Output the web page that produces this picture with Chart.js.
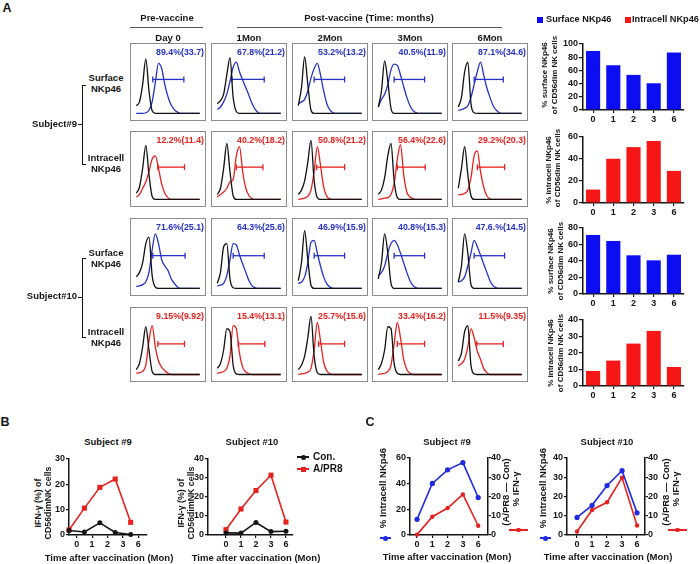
<!DOCTYPE html>
<html>
<head>
<meta charset="utf-8">
<script src="https://cdn.jsdelivr.net/npm/chart.js@4.4.1/dist/chart.umd.min.js"></script>
<style>
  body { margin: 0; background: #fff; }
  #fig { position: relative; width: 700px; height: 564px; overflow: hidden;
         font-family: Arial, "Liberation Sans", sans-serif; font-weight: bold; color: #151515; }
  .t { position: absolute; white-space: nowrap; line-height: 1; }
  .box { position: absolute; border: 1px solid #8c8c8c; box-sizing: border-box; }
  .box canvas, .cv { position: absolute; left: 0; top: 0; }
  .r { position: absolute; }
</style>
</head>
<body>
<div id="fig"></div>
<script>
// ---- data ----
var timeLabels = ['0', '1', '2', '3', '6'];
var visitTitles = ['Day 0', '1Mon', '2Mon', '3Mon', '6Mon'];
var histBins = [0, 1, 2, 3, 4, 5, 6, 7, 8, 9, 10, 11, 12, 13, 14, 15, 16, 17, 18, 19, 20];

// % NKp46+ of CD56dim NK cells (bar charts, panel C blue lines)
var s9Surface = [89.4, 67.8, 53.2, 40.5, 87.1];
var s9Intracell = [12.2, 40.2, 50.8, 56.4, 29.2];
var s10Surface = [71.6, 64.3, 46.9, 40.8, 47.6];
var s10Intracell = [9.15, 15.4, 25.7, 33.4, 11.5];

// gate read-outs printed on the histograms
var s9SurfLabels = ['89.4%(33.7)', '67.8%(21.2)', '53.2%(13.2)', '40.5%(11.9)', '87.1%(34.6)'];
var s9IntraLabels = ['12.2%(11.4)', '40.2%(18.2)', '50.8%(21.2)', '56.4%(22.6)', '29.2%(20.3)'];
var s10SurfLabels = ['71.6%(25.1)', '64.3%(25.6)', '46.9%(15.9)', '40.8%(15.3)', '47.6.%(14.5)'];
var s10IntraLabels = ['9.15%(9.92)', '15.4%(13.1)', '25.7%(15.6)', '33.4%(16.2)', '11.5%(9.35)'];

// histogram curves, % of max per bin (isotype = black, stained = coloured)
var s9SurfIso = [
  [12, 18, 45, 85, 35, 4, 0, 0, 0, 0, 0, 0, 0, 0, 0, 0, 0, 0, 0, 0, 0],
  [15, 20, 30, 60, 87, 25, 3, 0, 0, 0, 0, 0, 0, 0, 0, 0, 0, 0, 0, 0, 0],
  [12, 40, 88, 45, 5, 0, 0, 0, 0, 0, 0, 0, 0, 0, 0, 0, 0, 0, 0, 0, 0],
  [10, 35, 82, 50, 8, 0, 0, 0, 0, 0, 0, 0, 0, 0, 0, 0, 0, 0, 0, 0, 0],
  [10, 25, 65, 80, 15, 1, 0, 0, 0, 0, 0, 0, 0, 0, 0, 0, 0, 0, 0, 0, 0]
];
var s9SurfStain = [
  [0, 0, 0, 1, 5, 18, 48, 78, 70, 45, 26, 13, 6, 2, 0, 0, 0, 0, 0, 0, 0],
  [6, 10, 18, 30, 50, 72, 80, 65, 52, 40, 28, 15, 6, 1, 0, 0, 0, 0, 0, 0, 0],
  [15, 18, 22, 35, 55, 70, 78, 60, 35, 15, 5, 1, 0, 0, 0, 0, 0, 0, 0, 0, 0],
  [10, 22, 30, 45, 68, 77, 75, 60, 42, 25, 12, 4, 1, 0, 0, 0, 0, 0, 0, 0, 0],
  [5, 6, 8, 12, 25, 45, 65, 80, 60, 40, 25, 12, 5, 1, 0, 0, 0, 0, 0, 0, 0]
];
var s9IntraIso = [
  [10, 20, 50, 87, 40, 5, 0, 0, 0, 0, 0, 0, 0, 0, 0, 0, 0, 0, 0, 0, 0],
  [8, 18, 50, 90, 45, 6, 0, 0, 0, 0, 0, 0, 0, 0, 0, 0, 0, 0, 0, 0, 0],
  [8, 15, 30, 60, 95, 30, 3, 0, 0, 0, 0, 0, 0, 0, 0, 0, 0, 0, 0, 0, 0],
  [8, 15, 35, 70, 90, 30, 3, 0, 0, 0, 0, 0, 0, 0, 0, 0, 0, 0, 0, 0, 0],
  [18, 50, 85, 40, 6, 0, 0, 0, 0, 0, 0, 0, 0, 0, 0, 0, 0, 0, 0, 0, 0]
];
var s9IntraStain = [
  [4, 8, 18, 28, 45, 65, 70, 50, 25, 10, 3, 0, 0, 0, 0, 0, 0, 0, 0, 0, 0],
  [4, 8, 12, 18, 28, 32, 70, 85, 45, 18, 6, 1, 0, 0, 0, 0, 0, 0, 0, 0, 0],
  [0, 1, 2, 5, 15, 45, 85, 55, 20, 5, 1, 0, 0, 0, 0, 0, 0, 0, 0, 0, 0],
  [0, 1, 2, 3, 8, 25, 65, 88, 40, 12, 4, 1, 0, 0, 0, 0, 0, 0, 0, 0, 0],
  [7, 8, 10, 15, 35, 70, 78, 45, 20, 6, 1, 0, 0, 0, 0, 0, 0, 0, 0, 0, 0]
];
var s10SurfIso = [
  [18, 25, 40, 70, 80, 20, 2, 0, 0, 0, 0, 0, 0, 0, 0, 0, 0, 0, 0, 0, 0],
  [8, 25, 65, 70, 15, 1, 0, 0, 0, 0, 0, 0, 0, 0, 0, 0, 0, 0, 0, 0, 0],
  [12, 40, 90, 45, 5, 0, 0, 0, 0, 0, 0, 0, 0, 0, 0, 0, 0, 0, 0, 0, 0],
  [15, 40, 85, 55, 8, 0, 0, 0, 0, 0, 0, 0, 0, 0, 0, 0, 0, 0, 0, 0, 0],
  [10, 35, 85, 55, 6, 0, 0, 0, 0, 0, 0, 0, 0, 0, 0, 0, 0, 0, 0, 0, 0]
];
var s10SurfStain = [
  [3, 4, 6, 10, 25, 60, 85, 70, 45, 35, 28, 15, 8, 2, 0, 0, 0, 0, 0, 0, 0],
  [4, 5, 8, 20, 45, 70, 68, 52, 38, 25, 12, 4, 1, 0, 0, 0, 0, 0, 0, 0, 0],
  [8, 10, 18, 40, 72, 75, 55, 35, 18, 7, 2, 0, 0, 0, 0, 0, 0, 0, 0, 0, 0],
  [20, 25, 35, 55, 70, 75, 68, 55, 40, 25, 12, 4, 1, 0, 0, 0, 0, 0, 0, 0, 0],
  [10, 12, 18, 35, 55, 75, 65, 52, 38, 25, 12, 4, 1, 0, 0, 0, 0, 0, 0, 0, 0]
];
var s10IntraIso = [
  [8, 18, 45, 78, 40, 5, 0, 0, 0, 0, 0, 0, 0, 0, 0, 0, 0, 0, 0, 0, 0],
  [10, 18, 40, 75, 70, 15, 1, 0, 0, 0, 0, 0, 0, 0, 0, 0, 0, 0, 0, 0, 0],
  [8, 15, 30, 60, 95, 30, 3, 0, 0, 0, 0, 0, 0, 0, 0, 0, 0, 0, 0, 0, 0],
  [8, 18, 40, 78, 75, 18, 2, 0, 0, 0, 0, 0, 0, 0, 0, 0, 0, 0, 0, 0, 0],
  [22, 35, 70, 80, 15, 1, 0, 0, 0, 0, 0, 0, 0, 0, 0, 0, 0, 0, 0, 0, 0]
];
var s10IntraStain = [
  [2, 3, 5, 15, 55, 80, 45, 22, 12, 6, 2, 0, 0, 0, 0, 0, 0, 0, 0, 0, 0],
  [2, 3, 5, 10, 30, 80, 75, 35, 12, 4, 1, 0, 0, 0, 0, 0, 0, 0, 0, 0, 0],
  [0, 1, 2, 4, 10, 40, 85, 55, 20, 6, 1, 0, 0, 0, 0, 0, 0, 0, 0, 0, 0],
  [0, 1, 2, 5, 15, 50, 85, 60, 25, 8, 2, 0, 0, 0, 0, 0, 0, 0, 0, 0, 0],
  [14, 18, 25, 45, 75, 60, 38, 25, 10, 3, 0, 0, 0, 0, 0, 0, 0, 0, 0, 0, 0]
];

// positive gates, in bins [start, end]
var s9SurfGate = [[5.2, 15], [4.6, 14.8], [5, 14.6], [5, 14.6], [5, 14.2]];
var s9IntraGate = [[6.8, 15.2], [6, 14.4], [5.8, 14.6], [6, 14.8], [6, 14.6]];
var s10SurfGate = [[5.2, 15.4], [5, 14.8], [5, 14.6], [5, 14.6], [5, 14.6]];
var s10IntraGate = [[6.8, 15.2], [6.6, 15], [6.4, 14.6], [6, 14.6], [5.8, 14.2]];

// panel B: IFN-gamma (%) of CD56dim NK cells
var s9Con = [1.8, 1.2, 4.8, 1.0, 0.2];
var s9Apr8 = [2.0, 10.6, 18.8, 22.1, 5.0];
var s10Con = [1.1, 1.0, 6.6, 1.8, 2.0];
var s10Apr8 = [2.8, 13.7, 23.4, 31.5, 6.8];

// panel C: (A/PR8 - Con) % IFN-gamma
var s9IfnDiff = [0.2, 9.5, 14.0, 21.1, 4.8];
var s10IfnDiff = [1.8, 13.0, 17.0, 29.8, 4.9];

// ---- styles / layout ----
var INK = '#151515';
var BLUE = '#2532c6';
var RED = '#e6221f';
var BAR_BLUE = '#0d0df2';
var BAR_RED = '#f71616';
var LINE_BLUE = '#1f2be0';

Chart.defaults.font.family = 'Arial, "Liberation Sans", sans-serif';
Chart.defaults.font.weight = 'bold';
Chart.defaults.color = INK;

var fig = document.getElementById('fig');
var tickFont = { size: 9, weight: 'bold' };

function txt(s, x, y, o) {
  o = o || {};
  var d = document.createElement('div');
  d.className = 't';
  d.textContent = s;
  d.style.left = x + 'px';
  d.style.top = y + 'px';
  d.style.fontSize = (o.size || 9.5) + 'px';
  if (o.color) d.style.color = o.color;
  var tx = o.align === 'l' ? '0' : o.align === 'r' ? '-100%' : '-50%';
  d.style.transform = 'translate(' + tx + ',-50%)' + (o.rot ? ' rotate(-90deg)' : '');
  fig.appendChild(d);
}

function rect(x, y, w, h, color, round) {
  var d = document.createElement('div');
  d.className = 'r';
  d.style.left = x + 'px';
  d.style.top = y + 'px';
  d.style.width = w + 'px';
  d.style.height = h + 'px';
  d.style.background = color;
  if (round) d.style.borderRadius = '50%';
  fig.appendChild(d);
}

function canvasAt(parent, x, y, w, h) {
  var c = document.createElement('canvas');
  c.className = 'cv';
  c.width = w; c.height = h;
  c.style.left = x + 'px';
  c.style.top = y + 'px';
  c.style.width = w + 'px';
  c.style.height = h + 'px';
  parent.appendChild(c);
  return c;
}

var baseOpts = {
  animation: false, responsive: false, devicePixelRatio: 1, events: [],
  plugins: { legend: { display: false }, tooltip: { enabled: false } }
};

// ---- panel A: histograms ----
var colX = [130, 211, 292, 372, 452];
var rowY = [43, 131, 218, 307];
var rowH = [78, 76, 78, 75];
var gateLevel = [53, 52, 51, 50];

var rows = [
  { iso: s9SurfIso, stain: s9SurfStain, gate: s9SurfGate, labels: s9SurfLabels, color: BLUE },
  { iso: s9IntraIso, stain: s9IntraStain, gate: s9IntraGate, labels: s9IntraLabels, color: RED },
  { iso: s10SurfIso, stain: s10SurfStain, gate: s10SurfGate, labels: s10SurfLabels, color: BLUE },
  { iso: s10IntraIso, stain: s10IntraStain, gate: s10IntraGate, labels: s10IntraLabels, color: RED }
];

function curve(vals) {
  return histBins.map(function(b, i) { return { x: b, y: vals[i] }; });
}

rows.forEach(function(row, r) {
  for (var c = 0; c < 5; c++) {
    var box = document.createElement('div');
    box.className = 'box';
    box.style.left = colX[c] + 'px';
    box.style.top = rowY[r] + 'px';
    box.style.width = '76px';
    box.style.height = rowH[r] + 'px';
    fig.appendChild(box);
    var cv = canvasAt(box, 0, 0, 74, rowH[r] - 2);
    var g = row.gate[c];
    new Chart(cv, {
      type: 'line',
      data: {
        datasets: [
          { data: curve(row.iso[c]), borderColor: '#111', borderWidth: 1.3, pointRadius: 0,
            cubicInterpolationMode: 'monotone', clip: false },
          { data: curve(row.stain[c]), borderColor: row.color, borderWidth: 1.3, pointRadius: 0,
            cubicInterpolationMode: 'monotone', clip: false },
          { data: [{ x: g[0], y: gateLevel[r] }, { x: g[1], y: gateLevel[r] }],
            borderColor: row.color, borderWidth: 1.3, pointStyle: 'line', rotation: 90,
            pointRadius: 3, pointBorderColor: row.color, pointBorderWidth: 1.3, clip: false }
        ]
      },
      options: Object.assign({}, baseOpts, {
        layout: { padding: 0 },
        scales: {
          x: { type: 'linear', display: false, min: 0, max: 20 },
          y: { display: false, min: -2, max: 100 }
        }
      })
    });
    txt(row.labels[c], colX[c] + 74, rowY[r] + 9, { size: 8.8, color: row.color, align: 'r' });
  }
});

txt('A', 7, 8, { size: 12.5 });
txt('Pre-vaccine', 167, 18);
rect(130, 27, 73, 1, '#555');
txt('Post-vaccine (Time: months)', 369, 18);
rect(237, 27, 265, 1, '#555');
visitTitles.forEach(function(t, i) { txt(t, colX[i] + 38, 38); });

txt('Surface', 106, 78); txt('NKp46', 106, 89);
txt('Intracell', 106, 158); txt('NKp46', 106, 169);
txt('Surface', 106, 253); txt('NKp46', 106, 264);
txt('Intracell', 106, 332); txt('NKp46', 106, 343);

function bracket(y0, y1, ym) {
  rect(82, y0, 1, y1 - y0, INK);
  rect(82, y0, 4, 1, INK);
  rect(82, y1, 4, 1, INK);
  rect(78, ym, 4, 1, INK);
}
bracket(85, 164, 124);
txt('Subject#9', 77, 124, { align: 'r' });
bracket(258, 337, 297);
txt('Subject#10', 77, 296, { align: 'r' });

// ---- panel A: bar charts ----
rect(537, 17, 6, 6, BAR_BLUE);
txt('Surface NKp46', 546, 20, { size: 9.2, align: 'l' });
rect(625, 17, 6, 6, BAR_RED);
txt('Intracell NKp46', 632, 20, { size: 9.2, align: 'l' });

function axisCommon() {
  return {
    border: { color: INK, width: 1.5 },
    grid: { drawOnChartArea: false, color: INK, lineWidth: 1.2, tickLength: 4 },
    ticks: { font: tickFont, color: INK, padding: 1, autoSkip: false, maxRotation: 0 }
  };
}

function barChart(top, values, color, yMax, yStep) {
  var cv = canvasAt(fig, 560, top, 140, 88);
  var x = axisCommon();
  x.type = 'category';
  x.offset = true;
  x.grid.offset = false;
  x.grid.tickLength = 3;
  x.afterFit = function(s) { s.height = 14; };
  var y = axisCommon();
  y.min = 0; y.max = yMax;
  y.ticks.stepSize = yStep;
  y.afterFit = function(s) { s.width = 23; };
  new Chart(cv, {
    type: 'bar',
    data: {
      labels: timeLabels,
      datasets: [{ data: values, backgroundColor: color, borderWidth: 0,
                   barPercentage: 0.7, categoryPercentage: 1 }]
    },
    options: Object.assign({}, baseOpts, {
      layout: { padding: { top: 8, right: 16, left: 0, bottom: 0 } },
      scales: { x: x, y: y }
    })
  });
}

barChart(36, s9Surface, BAR_BLUE, 100, 20);
barChart(129, s9Intracell, BAR_RED, 60, 20);
barChart(220, s10Surface, BAR_BLUE, 80, 20);
barChart(312, s10Intracell, BAR_RED, 40, 10);

txt('% surface NKp46', 545, 75, { size: 8, rot: true });
txt('of CD56dim NK cells', 555, 75, { size: 8, rot: true });
txt('% intracell NKp46', 549, 170, { size: 8, rot: true });
txt('of CD56dim NK cells', 558, 168, { size: 8, rot: true });
txt('% surface NKp46', 551, 261, { size: 8, rot: true });
txt('of CD56dim NK cells', 561, 261, { size: 8, rot: true });
txt('% intracell NKp46', 551, 353, { size: 8, rot: true });
txt('of CD56dim NK cells', 561, 353, { size: 8, rot: true });

// ---- panels B and C: line charts ----
function pts(vals) {
  return vals.map(function(v, i) { return { x: i, y: v }; });
}

function lineChart(cfg) {
  var cv = canvasAt(fig, cfg.left, cfg.top, cfg.width, cfg.height);
  var x = axisCommon();
  x.type = 'linear';
  x.min = cfg.xMin; x.max = cfg.xMax;
  x.grid.tickLength = 3;
  x.afterBuildTicks = function(s) {
    s.ticks = timeLabels.map(function(l, i) { return { value: i + cfg.tickShift }; });
  };
  x.ticks.callback = function(v, i) { return timeLabels[i]; };
  x.afterFit = function(s) { s.height = 14; };
  var y = axisCommon();
  y.min = 0; y.max = cfg.yMax;
  y.grid.tickLength = 3;
  y.ticks.padding = 1;
  y.ticks.stepSize = cfg.yStep;
  y.afterFit = function(s) { s.width = 25; };
  var scales = { x: x, y: y };
  if (cfg.y1Max) {
    var y1 = axisCommon();
    y1.position = 'right';
    y1.min = 0; y1.max = cfg.y1Max;
    y1.grid.tickLength = 3;
    y1.ticks.padding = 0;
    y1.ticks.stepSize = cfg.y1Step;
    y1.afterFit = function(s) { s.width = 22; };
    scales.y1 = y1;
  }
  new Chart(cv, {
    type: 'line',
    data: { datasets: cfg.datasets },
    options: Object.assign({}, baseOpts, {
      layout: { padding: { top: 8, right: cfg.padRight || 0, left: 0, bottom: 0 } },
      scales: scales
    })
  });
}

function conSet(vals) {
  return { data: pts(vals), borderColor: INK, backgroundColor: INK, borderWidth: 1.6,
           pointRadius: 2.5, pointBorderWidth: 0, clip: false };
}
function aprSet(vals) {
  return { data: pts(vals), borderColor: RED, backgroundColor: RED, borderWidth: 1.6,
           pointStyle: 'rect', pointRadius: 3.6, pointBorderWidth: 0, clip: false };
}
function nkSet(vals) {
  return { data: pts(vals), borderColor: LINE_BLUE, backgroundColor: LINE_BLUE, borderWidth: 1.6,
           pointRadius: 2.6, pointBorderWidth: 0, yAxisID: 'y', clip: false };
}
function diffSet(vals) {
  return { data: pts(vals), borderColor: RED, backgroundColor: RED, borderWidth: 1.6,
           pointRadius: 2.2, pointBorderWidth: 0, yAxisID: 'y1', clip: false };
}

lineChart({ left: 44, top: 451, width: 107, height: 98, padRight: 4,
  xMin: 0, xMax: 5.06, tickShift: 0.5, yMax: 30, yStep: 10,
  datasets: [conSet(s9Con), aprSet(s9Apr8)] });
lineChart({ left: 183, top: 451, width: 114, height: 98, padRight: 4,
  xMin: -1.2, xMax: 4.47, tickShift: 0, yMax: 40, yStep: 10,
  datasets: [conSet(s10Con), aprSet(s10Apr8)] });
lineChart({ left: 385, top: 450, width: 125, height: 99,
  xMin: -0.46, xMax: 4.64, tickShift: 0, yMax: 60, yStep: 20, y1Max: 40, y1Step: 10,
  datasets: [nkSet(s9Intracell), diffSet(s9IfnDiff)] });
lineChart({ left: 542, top: 450, width: 125, height: 99,
  xMin: -0.67, xMax: 4.53, tickShift: 0, yMax: 40, yStep: 10, y1Max: 40, y1Step: 10,
  datasets: [nkSet(s10Intracell), diffSet(s10IfnDiff)] });

// panel B text
txt('B', 5, 422, { size: 12.5 });
txt('Subject #9', 108, 442);
txt('Subject #10', 252, 442);
txt('IFN-\u03b3 (%) of', 38, 503, { size: 8.8, rot: true });
txt('CD56dimNK cells', 48, 503, { size: 8.8, rot: true });
txt('IFN-\u03b3 (%) of', 181, 503, { size: 8.8, rot: true });
txt('CD56dimNK cells', 191, 503, { size: 8.8, rot: true });
txt('Time after vaccination (Mon)', 109, 558);
txt('Time after vaccination (Mon)', 256, 558);
rect(297, 456, 12, 1.6, INK);
rect(300.5, 454.5, 5, 5, INK, true);
txt('Con.', 313, 457, { align: 'l', size: 10 });
rect(297, 468, 12, 1.6, RED);
rect(300.5, 466.5, 5, 5, RED);
txt('A/PR8', 313, 469, { align: 'l', size: 10 });

// panel C text
txt('C', 370, 422, { size: 12.5 });
txt('Subject #9', 447, 442);
txt('Subject #10', 607, 442);
txt('% Intracell NKp46', 383, 488, { rot: true });
txt('% Intracell NKp46', 543, 488, { rot: true });
txt('(A/PR8 \u2014 Con)', 506, 492, { rot: true });
txt('% IFN-\u03b3', 516, 489, { rot: true });
txt('(A/PR8 \u2014 Con)', 666, 492, { rot: true });
txt('% IFN-\u03b3', 676, 489, { rot: true });
txt('Time after vaccination (Mon)', 447, 557);
txt('Time after vaccination (Mon)', 608, 557);
rect(380, 537, 11, 1.6, LINE_BLUE);
rect(383, 535.5, 5, 5, LINE_BLUE, true);
rect(540, 537, 11, 1.6, LINE_BLUE);
rect(543, 535.5, 5, 5, LINE_BLUE, true);
rect(509, 529, 19, 1.6, RED);
rect(516, 527.5, 4.5, 4.5, RED, true);
rect(668, 529, 19, 1.6, RED);
rect(675, 527.5, 4.5, 4.5, RED, true);
</script>
</body>
</html>
